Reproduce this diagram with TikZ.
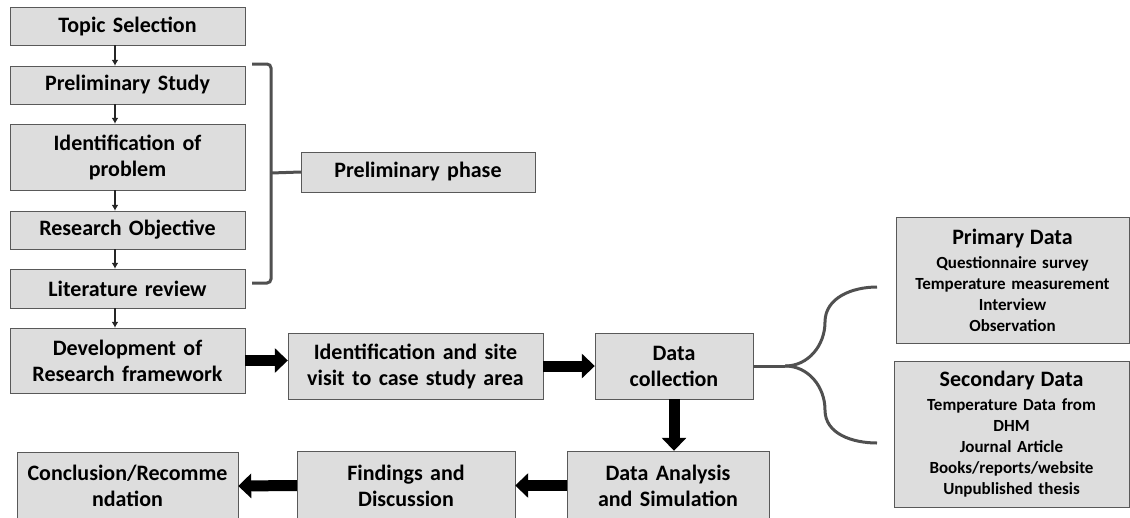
\documentclass[tikz,border=0pt]{standalone}
\usepackage{fontspec}
\setmainfont{Carlito}
\usepackage{tikz}
\usetikzlibrary{arrows.meta}
\definecolor{boxfill}{HTML}{DDDDDD}
\definecolor{boxline}{HTML}{595959}
\definecolor{bracecol}{HTML}{505050}

\begin{document}
\begin{tikzpicture}[>=latex, x=1pt, y=-1pt,
  stepbox/.style={draw=boxline, fill=boxfill, inner sep=0pt, align=center,
    font=\bfseries\fontsize{22}{26}\selectfont},
  leftbox/.style={stepbox, text width=235pt, minimum width=235pt},
  datalist/.style={stepbox, font=\bfseries\fontsize{17}{21}\selectfont},
  flowarrow/.style={line width=1.8pt, draw=black!85, -{Latex[length=6pt,width=7pt]}},
  bigarrow/.style={line width=11pt, -{Triangle[width=24pt,length=13pt]}},
  bracket/.style={draw=bracecol, line width=3pt}]
  \useasboundingbox (0,0) rectangle (1130,517);
  \node (topic) at (127.5,26) [leftbox, minimum height=38pt] {Topic Selection};
  \node (prelim) at (127.5,85) [leftbox, minimum height=38pt] {Preliminary Study};
  \node (ident) at (127.5,157) [leftbox, minimum height=66pt] {Identification of\\problem};
  \node (objective) at (127.5,230) [leftbox, minimum height=38pt] {Research Objective};
  \node (litreview) at (127.5,288.5) [leftbox, minimum height=39pt] {Literature review};
  \node (develop) at (127.5,360.5) [leftbox, minimum height=65pt] {Development of\\Research framework};
  \node (site) at (415.5,366) [stepbox, text width=255pt, minimum height=66pt] {Identification and site\\visit to case study area};
  \node (collect) at (674,366) [stepbox, text width=158pt, minimum height=66pt] {Data\\collection};
  \node (analysis) at (668,485.5) [stepbox, text width=202pt, minimum height=69pt] {Data Analysis\\and Simulation};
  \node (findings) at (406,485.5) [stepbox, text width=218pt, minimum height=69pt] {Findings and\\Discussion};
  \node (conclusion) at (127.5,486) [stepbox, text width=221pt, minimum height=68pt] {Conclusion/Recomme\\ndation};
  \node (phase) at (418,172) [stepbox, text width=234pt, minimum height=40pt] {Preliminary phase};
  \node (primary) at (1012.5,280) [datalist, text width=233pt, minimum height=126pt]
    {{\fontsize{22}{26}\selectfont Primary Data}\\[3pt] Questionnaire survey\\ Temperature measurement\\ Interview\\ Observation};
  \node (secondary) at (1011.5,434) [datalist, text width=235pt, minimum height=146pt]
    {{\fontsize{22}{26}\selectfont Secondary Data}\\[3pt] Temperature Data from\\ DHM\\ Journal Article\\ Books/reports/website\\ Unpublished thesis};

  \foreach \a/\b in {topic/prelim, prelim/ident, ident/objective, objective/litreview, litreview/develop}
    \draw [flowarrow] ([xshift=-12.5pt]\a.south) -- ([xshift=-12.5pt]\b.north);

  \draw [bracket, rounded corners=4pt] (252,64) -- (271,64) -- (271,283) -- (252,283);
  \coordinate (bracemid) at (271,173);
  \draw [bracket] (bracemid) -- (phase.west);

  \coordinate (fork) at ([xshift=32pt]collect.east);
  \coordinate (forkup) at (877,287);
  \coordinate (forkdown) at (877,443);
  \draw [bracket] (collect.east) -- (fork);
  \draw [bracket] (fork) to [out=0, in=-90] (825,322) to [out=90, in=180] (forkup);
  \draw [bracket] (fork) to [out=0, in=90] (825,410) to [out=-90, in=180] (forkdown);

  \draw [bigarrow] (develop.east) -- (develop.east -| site.west);
  \draw [bigarrow] (site.east) -- (collect.west);
  \draw [bigarrow] (collect.south) -- (collect.south |- analysis.north);
  \draw [bigarrow] (analysis.west) -- (findings.east);
  \draw [bigarrow] (findings.west) -- (conclusion.east);
\end{tikzpicture}
\end{document}
